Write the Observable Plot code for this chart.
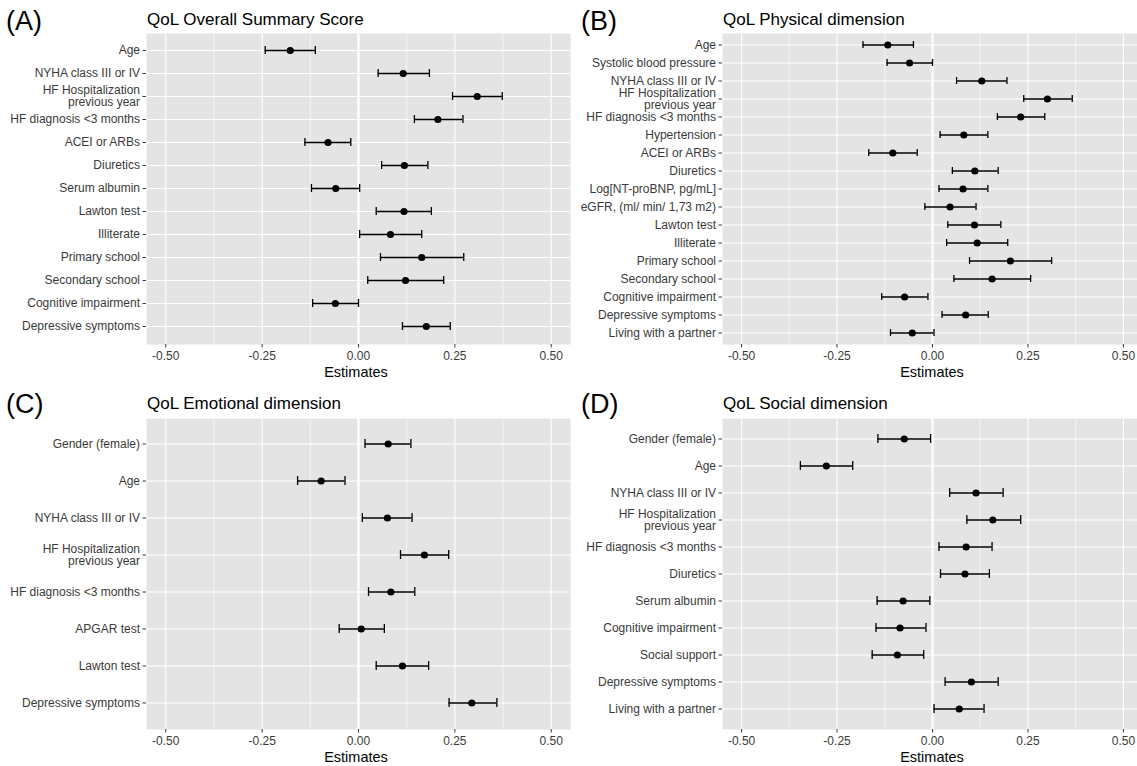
<!DOCTYPE html>
<html><head><meta charset="utf-8">
<script src="https://cdn.jsdelivr.net/npm/d3@7"></script>
<script src="https://cdn.jsdelivr.net/npm/@observablehq/plot@0.6"></script>
<style>
html,body{margin:0;padding:0;background:#fff;}
body{width:1137px;height:766px;overflow:hidden;position:relative;font-family:"Liberation Sans",Arial,sans-serif;}
.panel{position:absolute;}
#overlay{position:absolute;left:0;top:0;}
</style></head><body>
<script>
// ---------- data ----------
const xTicks = [-0.5, -0.25, 0, 0.25, 0.5];
const xMinor = [-0.375, -0.125, 0.125, 0.375];

const labelsA = ["Age","NYHA class III or IV","HF Hospitalization\nprevious year","HF diagnosis <3 months","ACEI or ARBs","Diuretics","Serum albumin","Lawton test","Illiterate","Primary school","Secondary school","Cognitive impairment","Depressive symptoms"];
const estA = [-0.177,0.116,0.308,0.206,-0.079,0.119,-0.059,0.118,0.083,0.164,0.122,-0.060,0.176];
const loA  = [-0.242,0.051,0.244,0.145,-0.139,0.060,-0.122,0.046,0.003,0.057,0.024,-0.119,0.114];
const hiA  = [-0.112,0.184,0.373,0.271,-0.020,0.180,0.003,0.189,0.164,0.273,0.221,0.000,0.238];

const labelsB = ["Age","Systolic blood pressure","NYHA class III or IV","HF Hospitalization\nprevious year","HF diagnosis <3 months","Hypertension","ACEI or ARBs","Diuretics","Log[NT-proBNP, pg/mL]","eGFR, (ml/ min/ 1,73 m2)","Lawton test","Illiterate","Primary school","Secondary school","Cognitive impairment","Depressive symptoms","Living with a partner"];
const estB = [-0.117,-0.060,0.129,0.301,0.231,0.082,-0.104,0.111,0.080,0.046,0.110,0.117,0.204,0.156,-0.073,0.087,-0.053];
const loB  = [-0.182,-0.119,0.063,0.239,0.170,0.020,-0.167,0.052,0.017,-0.020,0.040,0.037,0.097,0.056,-0.133,0.025,-0.110];
const hiB  = [-0.050,0.000,0.195,0.366,0.294,0.145,-0.040,0.172,0.145,0.114,0.179,0.197,0.312,0.257,-0.012,0.146,0.004];

const labelsC = ["Gender (female)","Age","NYHA class III or IV","HF Hospitalization\nprevious year","HF diagnosis <3 months","APGAR test","Lawton test","Depressive symptoms"];
const estC = [0.077,-0.097,0.075,0.171,0.084,0.007,0.114,0.294];
const loC  = [0.017,-0.158,0.010,0.109,0.026,-0.050,0.046,0.235];
const hiC  = [0.136,-0.035,0.139,0.234,0.146,0.067,0.182,0.359];

const labelsD = ["Gender (female)","Age","NYHA class III or IV","HF Hospitalization\nprevious year","HF diagnosis <3 months","Diuretics","Serum albumin","Cognitive impairment","Social support","Depressive symptoms","Living with a partner"];
const estD = [-0.074,-0.278,0.114,0.158,0.088,0.085,-0.077,-0.085,-0.092,0.102,0.070];
const loD  = [-0.143,-0.346,0.045,0.090,0.017,0.021,-0.145,-0.148,-0.158,0.033,0.004];
const hiD  = [-0.005,-0.209,0.185,0.231,0.156,0.149,-0.007,-0.017,-0.023,0.172,0.135];

const tags = ["(A)","(B)","(C)","(D)"];
const titles = ["QoL Overall Summary Score","QoL Physical dimension","QoL Emotional dimension","QoL Social dimension"];
const xLabel = "Estimates";

// ---------- layout ----------
const panels = [
  {labels: labelsA, est: estA, lo: loA, hi: hiA, left: 0,   top: 0,   width: 570, height: 383, ml: 146, mt: 33, mb: 39, cap: 8.5},
  {labels: labelsB, est: estB, lo: loB, hi: hiB, left: 575, top: 0,   width: 567, height: 383, ml: 147, mt: 33, mb: 39, cap: 7},
  {labels: labelsC, est: estC, lo: loC, hi: hiC, left: 0,   top: 383, width: 570, height: 383, ml: 146, mt: 35, mb: 37, cap: 9.5},
  {labels: labelsD, est: estD, lo: loD, hi: hiD, left: 575, top: 383, width: 567, height: 383, ml: 147, mt: 35, mb: 37, cap: 9.5}
];

const fmt = d => d.toFixed(2);

function makePanel(p) {
  const data = p.labels.map((l, i) => ({label: l, est: p.est[i], lo: p.lo[i], hi: p.hi[i]}));
  const n = p.labels.length;
  const plotH = p.height - p.mt - p.mb;
  const step = plotH / (n + 0.2);
  const pi = 1 - p.cap / step;
  const po = 0.1 + pi / 2;
  const svg = Plot.plot({
    width: p.width, height: p.height,
    marginLeft: p.ml, marginRight: 0, marginTop: p.mt, marginBottom: p.mb,
    style: {fontFamily: '"Liberation Sans", Arial, sans-serif', fontSize: "12px", color: "#3a3a3a", background: "transparent", overflow: "visible"},
    x: {domain: [-0.55, 0.55], label: null},
    y: {type: "band", domain: p.labels, paddingInner: pi, paddingOuter: po, label: null},
    marks: [
      Plot.frame({fill: "#e4e4e4", stroke: "none"}),
      Plot.ruleX(xMinor, {stroke: "white", strokeWidth: 0.6}),
      Plot.ruleX(xTicks, {stroke: "white", strokeWidth: 1.1}),
      Plot.ruleY(p.labels, {y: d => d, stroke: "white", strokeWidth: 1.1}),
      Plot.ruleX([0], {stroke: "white", strokeWidth: 2.2}),
      Plot.ruleY(data, {y: "label", x1: "lo", x2: "hi", stroke: "black", strokeWidth: 1.3}),
      Plot.tickX(data, {x: "lo", y: "label", stroke: "black", strokeWidth: 1.3}),
      Plot.tickX(data, {x: "hi", y: "label", stroke: "black", strokeWidth: 1.3}),
      Plot.dot(data, {x: "est", y: "label", r: 3.6, fill: "black", stroke: "none"}),
      Plot.axisX({ticks: xTicks, tickFormat: fmt, tickSize: 3.5, tickPadding: 3, label: null}),
      Plot.axisY({tickSize: 3.5, tickPadding: 3, label: null, tickFormat: d => d})
    ]
  });
  svg.classList.add("panel");
  svg.style.left = p.left + "px";
  svg.style.top = p.top + "px";
  document.body.appendChild(svg);
}
panels.forEach(makePanel);

// ---------- text overlay (tags, titles, axis titles) ----------
const ov = d3.select("body").append("svg").attr("id", "overlay")
  .attr("width", 1137).attr("height", 766)
  .style("font-family", '"Liberation Sans", Arial, sans-serif');
panels.forEach((p, i) => {
  const tagBase = p.top + (i < 2 ? 30 : 29.5);
  const titleBase = p.top + (i < 2 ? 25 : 25.5);
  ov.append("text").attr("x", p.left + 6).attr("y", tagBase).attr("font-size", 27).attr("fill", "#000").text(tags[i]);
  ov.append("text").attr("x", p.left + p.ml + 1).attr("y", titleBase).attr("font-size", 17).attr("fill", "#000").text(titles[i]);
  const cx = p.left + p.ml + 210;
  const by = p.height - p.mb + p.top + 32.5;
  ov.append("text").attr("x", cx).attr("y", by).attr("font-size", 14.5).attr("fill", "#000").attr("text-anchor", "middle").text(xLabel);
});
</script>
</body></html>
